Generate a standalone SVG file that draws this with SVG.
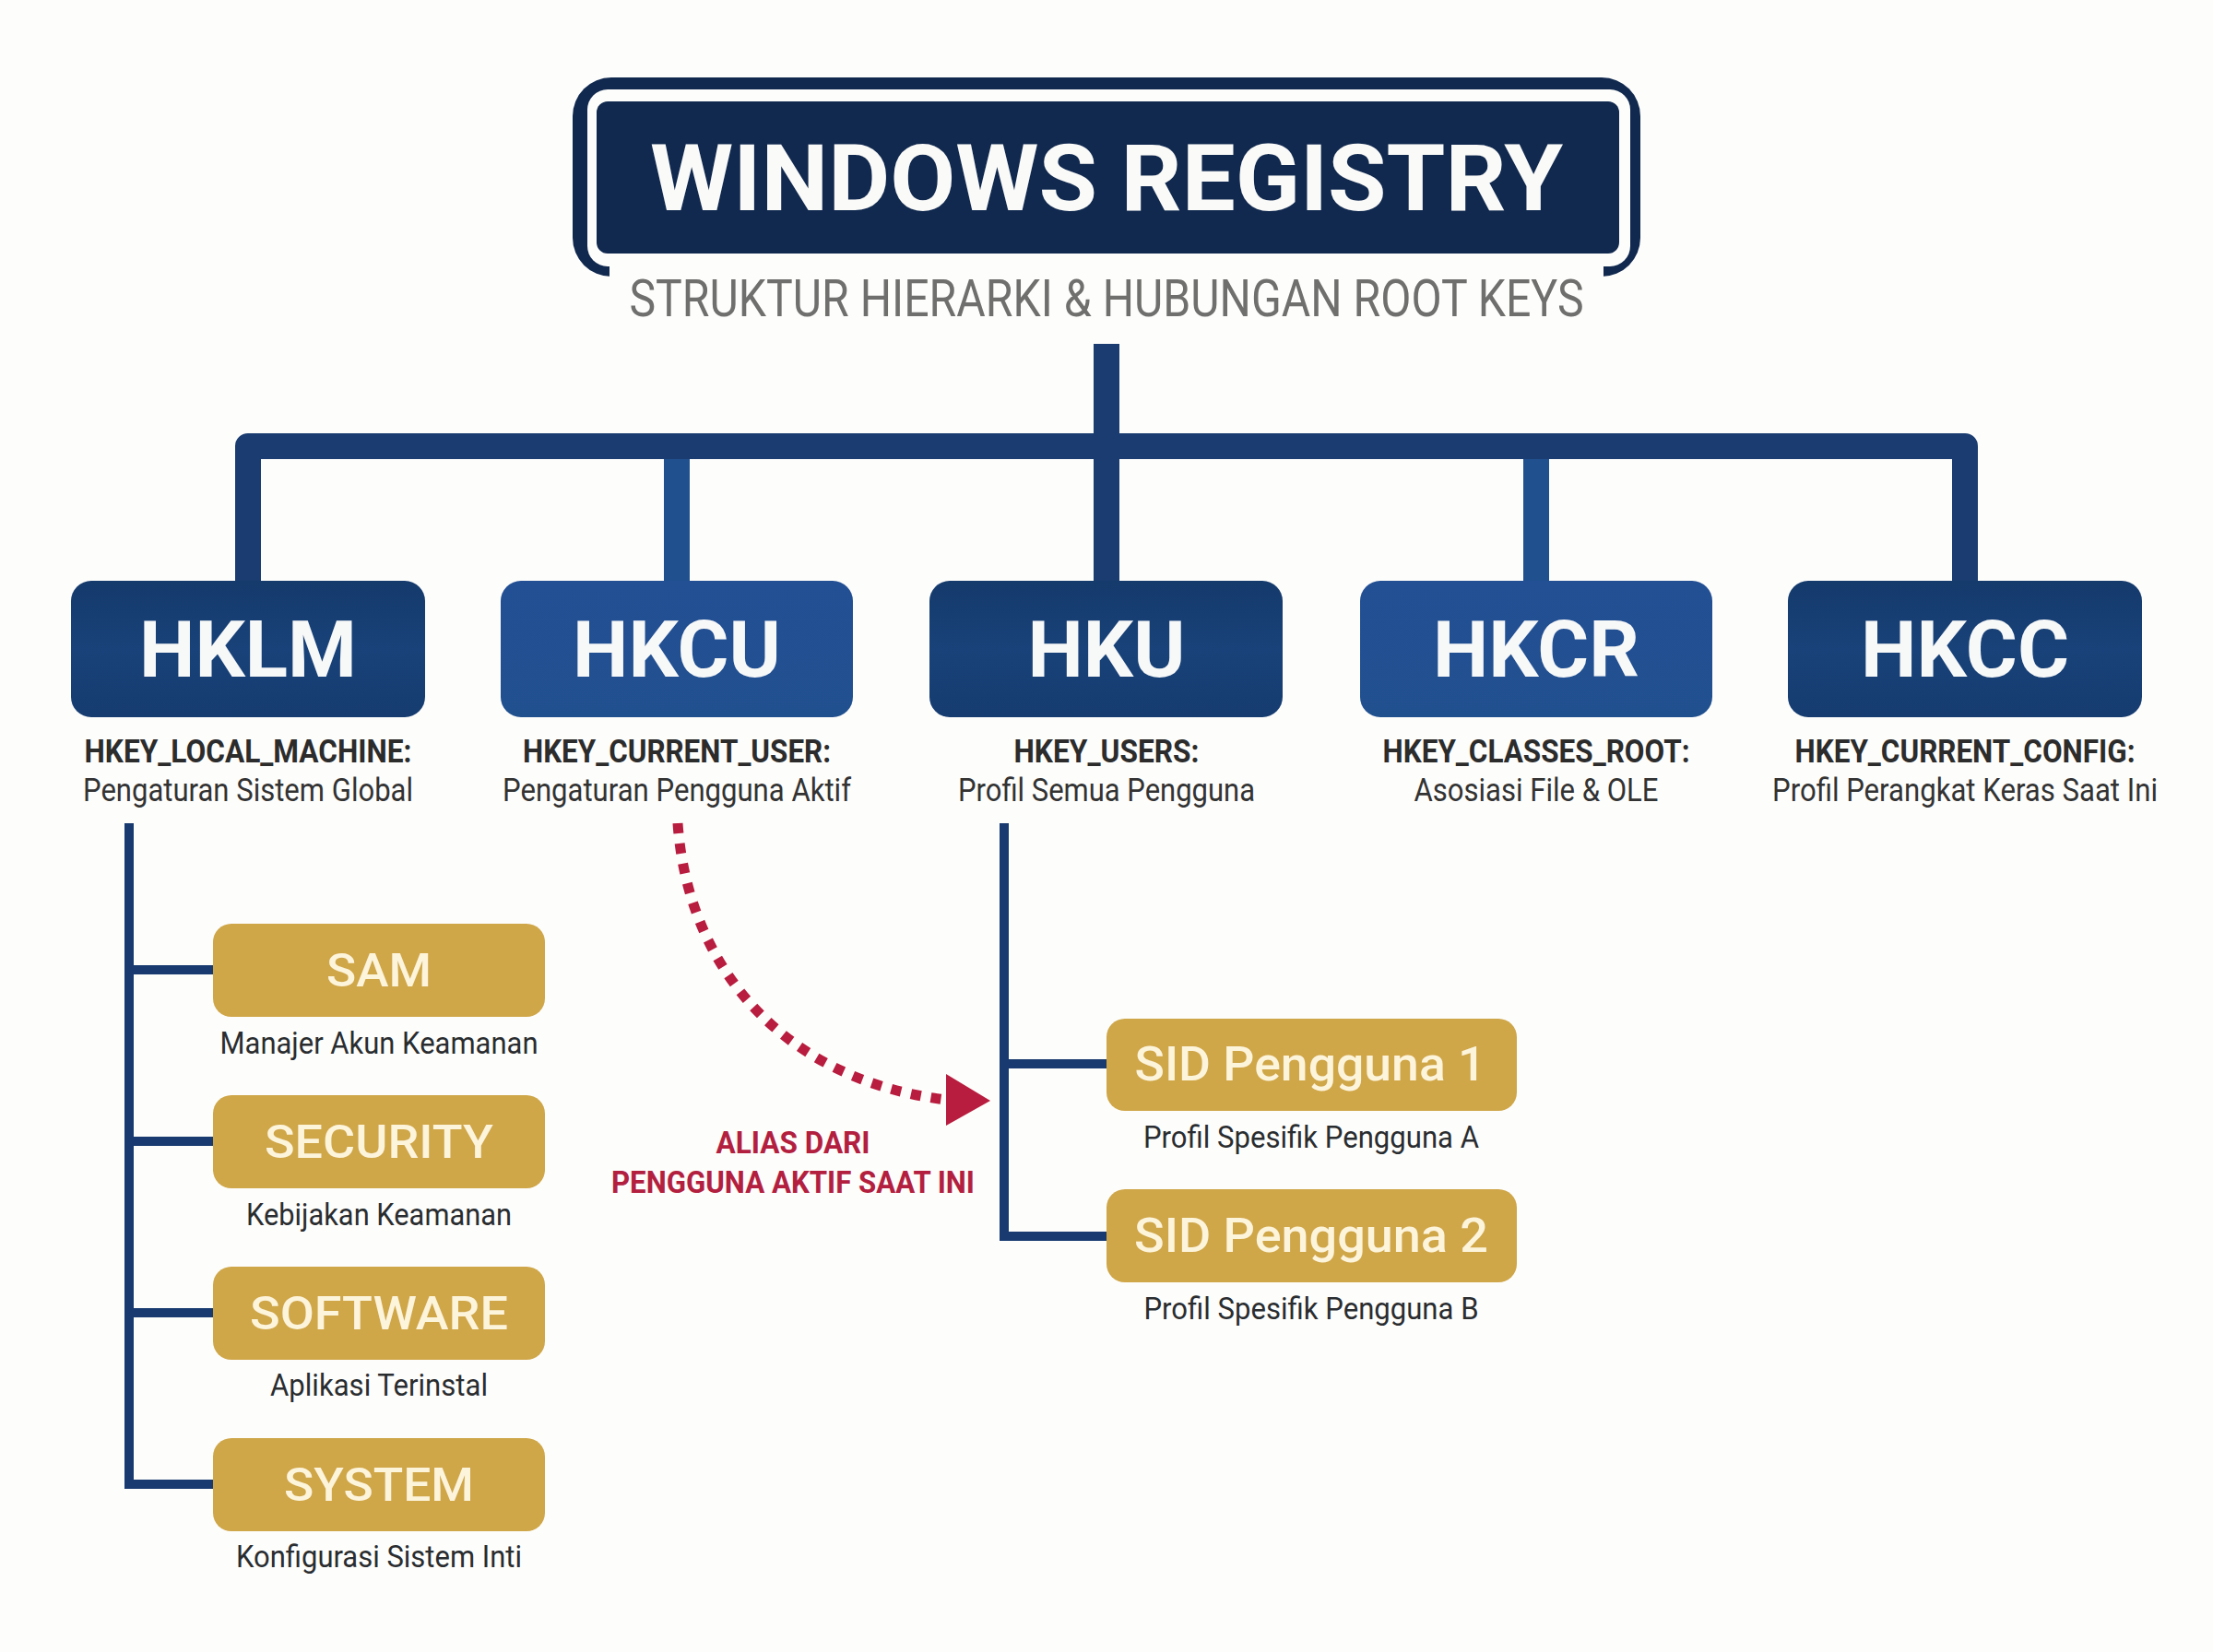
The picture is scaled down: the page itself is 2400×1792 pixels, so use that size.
<svg xmlns="http://www.w3.org/2000/svg" width="2400" height="1792" viewBox="0 0 2400 1792">
<style>
text{font-family:Roboto,"Liberation Sans",sans-serif;text-anchor:middle}
.title{font-size:100px;font-weight:700;fill:#fafaf8}
.sub{font-size:56px;font-weight:400;fill:#6f6f6d}
.rk{font-size:86px;font-weight:700;fill:#f7f8f8}
.rl{font-size:35px;font-weight:700;fill:#2c2c2c}
.rd{font-size:35px;font-weight:400;fill:#333}
.gold{fill:#cfa648}
.gt{font-size:50px;font-weight:500;fill:#fdf4dc}
.gd{font-size:34px;font-weight:400;fill:#2a2d30}
.alias{font-size:33px;font-weight:700;fill:#b3203f}
.dark{fill:url(#gd)}
.mid{fill:url(#gm)}
.thick{stroke:#1a3c70;stroke-width:28;fill:none;stroke-linejoin:round}
.thin{stroke:#183a70;fill:none}
.light{stroke:#21508f;stroke-width:28;fill:none}
</style>
<defs>
<linearGradient id="gd" x1="0" x2="0" y1="0" y2="1"><stop offset="0" stop-color="#153a6c"/><stop offset=".5" stop-color="#184279"/><stop offset="1" stop-color="#163c70"/></linearGradient>
<linearGradient id="gm" x1="0" x2="0" y1="0" y2="1"><stop offset="0" stop-color="#234f94"/><stop offset="1" stop-color="#21508f"/></linearGradient>
<marker id="ah" markerUnits="userSpaceOnUse" markerWidth="50" markerHeight="60" refX="0" refY="28" orient="0"><path d="M0 0L48 29L0 56z" fill="#b81c3e"/></marker>
</defs>
<rect width="2400" height="1792" fill="#fdfdfb"/>
<g id="connectors">
<path class="thick" d="M269 630V484H2131V630"/>
<path class="thick" d="M1200 373V630"/>
<path class="light" d="M734 498V630M1666 498V630"/>
<path class="thin" stroke-width="10" d="M140 893V1610H231M140 1052H231M140 1238H231M140 1424H231"/>
<path class="thin" stroke-width="10" d="M1089 893V1341H1200M1089 1154H1200"/>
<path d="M735 893C745 1040 840 1170 1026 1193" fill="none" stroke="#b81c3e" stroke-width="11" stroke-dasharray="11 11" marker-end="url(#ah)"/>
</g>
<g id="title">
<rect x="621" y="84" width="1158" height="216" rx="42" fill="#11294f"/>
<rect x="661" y="287" width="1078" height="16" fill="#fdfdfb"/>
<rect x="637" y="97" width="1131" height="192" rx="22" fill="#fdfdfb"/>
<rect x="647" y="110" width="1109" height="165" rx="12" fill="#11294f"/>
<text class="title" x="1200" y="228" textLength="990" lengthAdjust="spacingAndGlyphs">WINDOWS REGISTRY</text>
<text class="sub" x="1200" y="343" textLength="1035" lengthAdjust="spacingAndGlyphs">STRUKTUR HIERARKI &amp; HUBUNGAN ROOT KEYS</text>
</g>
<g id="hklm">
<rect class="dark" x="77" y="630" width="384" height="148" rx="22"/>
<text class="rk" x="269" y="734" textLength="236" lengthAdjust="spacingAndGlyphs">HKLM</text>
<text class="rl" x="269" y="827" textLength="355" lengthAdjust="spacingAndGlyphs">HKEY_LOCAL_MACHINE:</text>
<text class="rd" x="269" y="869" textLength="358" lengthAdjust="spacingAndGlyphs">Pengaturan Sistem Global</text>
</g>
<g id="hkcu">
<rect class="mid" x="543" y="630" width="382" height="148" rx="22"/>
<text class="rk" x="734" y="734" textLength="226" lengthAdjust="spacingAndGlyphs">HKCU</text>
<text class="rl" x="734" y="827" textLength="334" lengthAdjust="spacingAndGlyphs">HKEY_CURRENT_USER:</text>
<text class="rd" x="734" y="869" textLength="378" lengthAdjust="spacingAndGlyphs">Pengaturan Pengguna Aktif</text>
</g>
<g id="hku">
<rect class="dark" x="1008" y="630" width="383" height="148" rx="22"/>
<text class="rk" x="1200" y="734" textLength="171" lengthAdjust="spacingAndGlyphs">HKU</text>
<text class="rl" x="1200" y="827" textLength="201" lengthAdjust="spacingAndGlyphs">HKEY_USERS:</text>
<text class="rd" x="1200" y="869" textLength="322" lengthAdjust="spacingAndGlyphs">Profil Semua Pengguna</text>
</g>
<g id="hkcr">
<rect class="mid" x="1475" y="630" width="382" height="148" rx="22"/>
<text class="rk" x="1666" y="734" textLength="224" lengthAdjust="spacingAndGlyphs">HKCR</text>
<text class="rl" x="1666" y="827" textLength="333" lengthAdjust="spacingAndGlyphs">HKEY_CLASSES_ROOT:</text>
<text class="rd" x="1666" y="869" textLength="265" lengthAdjust="spacingAndGlyphs">Asosiasi File &amp; OLE</text>
</g>
<g id="hkcc">
<rect class="dark" x="1939" y="630" width="384" height="148" rx="22"/>
<text class="rk" x="2131" y="734" textLength="226" lengthAdjust="spacingAndGlyphs">HKCC</text>
<text class="rl" x="2131" y="827" textLength="369" lengthAdjust="spacingAndGlyphs">HKEY_CURRENT_CONFIG:</text>
<text class="rd" x="2131" y="869" textLength="418" lengthAdjust="spacingAndGlyphs">Profil Perangkat Keras Saat Ini</text>
</g>
<g id="sam">
<rect class="gold" x="231" y="1002" width="360" height="101" rx="20"/>
<text class="gt" x="411" y="1070" textLength="114" lengthAdjust="spacingAndGlyphs">SAM</text>
<text class="gd" x="411" y="1143" textLength="345" lengthAdjust="spacingAndGlyphs">Manajer Akun Keamanan</text>
</g>
<g id="security">
<rect class="gold" x="231" y="1188" width="360" height="101" rx="20"/>
<text class="gt" x="411" y="1256" textLength="248" lengthAdjust="spacingAndGlyphs">SECURITY</text>
<text class="gd" x="411" y="1329" textLength="288" lengthAdjust="spacingAndGlyphs">Kebijakan Keamanan</text>
</g>
<g id="software">
<rect class="gold" x="231" y="1374" width="360" height="101" rx="20"/>
<text class="gt" x="411" y="1442" textLength="280" lengthAdjust="spacingAndGlyphs">SOFTWARE</text>
<text class="gd" x="411" y="1514" textLength="236" lengthAdjust="spacingAndGlyphs">Aplikasi Terinstal</text>
</g>
<g id="system">
<rect class="gold" x="231" y="1560" width="360" height="101" rx="20"/>
<text class="gt" x="411" y="1628" textLength="206" lengthAdjust="spacingAndGlyphs">SYSTEM</text>
<text class="gd" x="411" y="1700" textLength="310" lengthAdjust="spacingAndGlyphs">Konfigurasi Sistem Inti</text>
</g>
<g id="sid1">
<rect class="gold" x="1200" y="1105" width="445" height="100" rx="20"/>
<text class="gt" x="1421" y="1172" textLength="381" lengthAdjust="spacingAndGlyphs" style="font-size:52px">SID Pengguna 1</text>
<text class="gd" x="1422" y="1245" textLength="364" lengthAdjust="spacingAndGlyphs">Profil Spesifik Pengguna A</text>
</g>
<g id="sid2">
<rect class="gold" x="1200" y="1290" width="445" height="101" rx="20"/>
<text class="gt" x="1422" y="1358" textLength="384" lengthAdjust="spacingAndGlyphs" style="font-size:52px">SID Pengguna 2</text>
<text class="gd" x="1422" y="1431" textLength="363" lengthAdjust="spacingAndGlyphs">Profil Spesifik Pengguna B</text>
</g>
<g id="alias">
<text class="alias" x="860" y="1251" textLength="167" lengthAdjust="spacingAndGlyphs">ALIAS DARI</text>
<text class="alias" x="860" y="1294" textLength="394" lengthAdjust="spacingAndGlyphs">PENGGUNA AKTIF SAAT INI</text>
</g>
</svg>
